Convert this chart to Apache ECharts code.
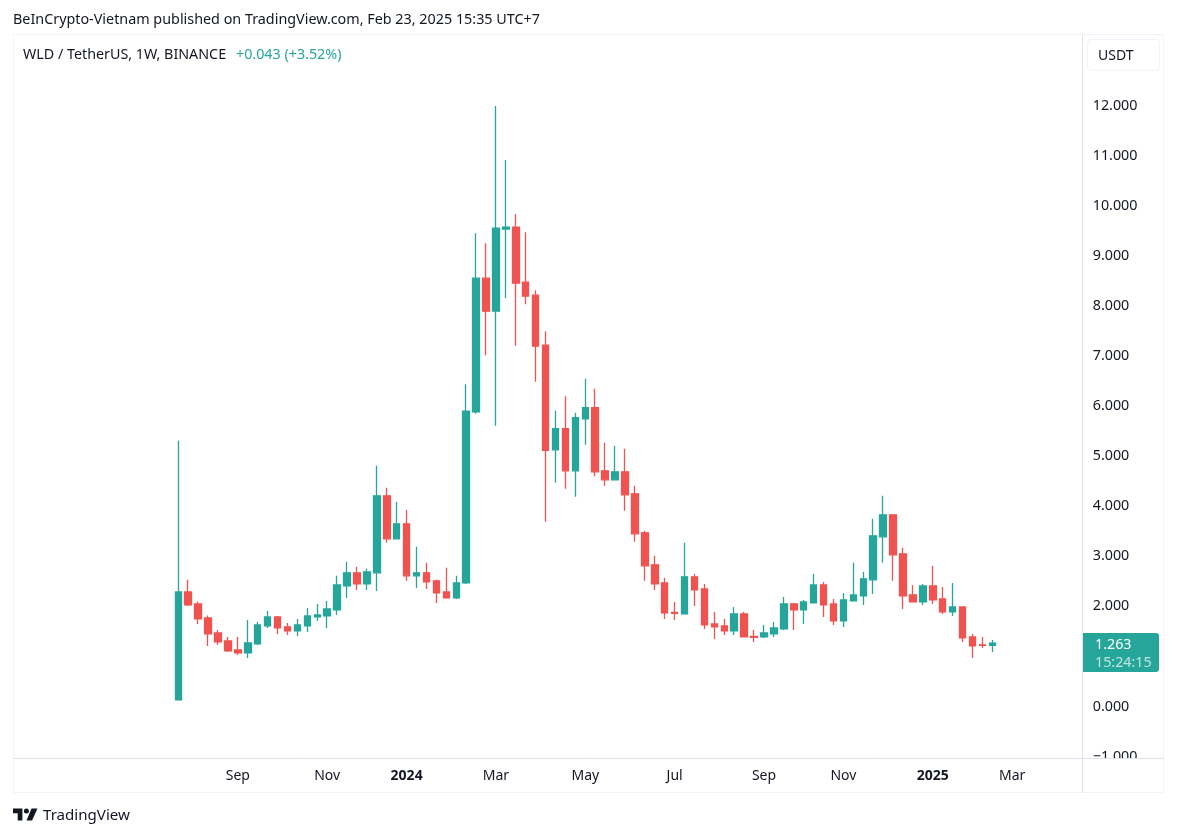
<!DOCTYPE html>
<html>
<head>
<meta charset="utf-8">
<title>WLD / TetherUS</title>
<style>
  html, body { margin: 0; padding: 0; background: #fff; }
  #main { width: 1177px; height: 837px; }
</style>
<script src="https://cdn.jsdelivr.net/npm/echarts@6/dist/echarts.min.js"></script>
</head>
<body>
<div id="main"></div>
<script>
var FONT = '"Noto Sans", sans-serif';
var UP = '#26a69a', DOWN = '#ef5350', TEXT = '#131722';

// weekly candles, [open, close, low, high], first week is 24 Jul 2023
var candles = [
  [0.13, 2.29, 0.13, 5.31], [2.29, 2.03, 2.01, 2.53], [2.05, 1.75, 1.65, 2.10], [1.77, 1.45, 1.21, 1.82],
  [1.47, 1.29, 1.23, 1.53], [1.31, 1.11, 1.09, 1.39], [1.13, 1.07, 1.03, 1.39], [1.07, 1.27, 0.97, 1.73],
  [1.25, 1.63, 1.23, 1.69], [1.61, 1.79, 1.57, 1.91], [1.79, 1.57, 1.45, 1.81], [1.59, 1.51, 1.43, 1.67],
  [1.51, 1.63, 1.41, 1.75], [1.61, 1.81, 1.49, 1.97], [1.79, 1.83, 1.71, 2.05], [1.81, 1.95, 1.57, 2.11],
  [1.93, 2.43, 1.83, 2.61], [2.41, 2.67, 2.17, 2.89], [2.67, 2.45, 2.33, 2.79], [2.45, 2.69, 2.33, 2.75],
  [2.67, 4.21, 2.31, 4.81], [4.21, 3.35, 3.27, 4.37], [3.35, 3.65, 3.35, 4.09], [3.65, 2.61, 2.51, 3.93],
  [2.61, 2.67, 2.37, 3.19], [2.67, 2.49, 2.35, 2.87], [2.51, 2.27, 2.07, 2.53], [2.29, 2.17, 2.17, 2.77],
  [2.17, 2.47, 2.15, 2.61], [2.47, 5.90, 2.45, 6.44], [5.89, 8.56, 5.85, 9.46], [8.56, 7.90, 7.02, 9.26],
  [7.90, 9.56, 5.61, 12.0], [9.54, 9.58, 8.16, 10.92], [9.58, 8.46, 7.21, 9.84], [8.48, 8.20, 8.04, 9.48],
  [8.22, 7.20, 6.49, 8.32], [7.22, 5.12, 3.69, 7.50], [5.13, 5.55, 4.47, 5.91], [5.55, 4.71, 4.35, 6.20],
  [4.71, 5.77, 4.19, 5.87], [5.75, 5.97, 5.23, 6.55], [5.97, 4.69, 4.60, 6.35], [4.71, 4.53, 4.41, 5.27],
  [4.53, 4.69, 4.53, 5.21], [4.69, 4.23, 3.91, 5.15], [4.25, 3.45, 3.29, 4.41], [3.47, 2.81, 2.51, 3.51],
  [2.83, 2.45, 2.33, 3.01], [2.47, 1.87, 1.75, 2.57], [1.88, 1.86, 1.73, 2.09], [1.85, 2.59, 1.85, 3.27],
  [2.59, 2.33, 2.01, 2.65], [2.35, 1.63, 1.55, 2.45], [1.65, 1.59, 1.35, 1.89], [1.61, 1.51, 1.43, 1.75],
  [1.51, 1.85, 1.43, 1.99], [1.85, 1.39, 1.39, 1.89], [1.40, 1.38, 1.29, 1.53], [1.39, 1.47, 1.37, 1.63],
  [1.45, 1.57, 1.39, 1.69], [1.55, 2.05, 1.53, 2.19], [2.05, 1.93, 1.53, 2.07], [1.93, 2.09, 1.65, 2.13],
  [2.07, 2.43, 2.07, 2.65], [2.43, 2.03, 1.79, 2.49], [2.05, 1.71, 1.63, 2.15], [1.71, 2.13, 1.59, 2.27],
  [2.11, 2.23, 2.11, 2.87], [2.21, 2.55, 2.03, 2.69], [2.53, 3.41, 2.25, 3.75], [3.39, 3.83, 2.87, 4.21],
  [3.83, 3.03, 2.51, 3.83], [3.05, 2.21, 1.95, 3.17], [2.23, 2.09, 2.09, 2.43], [2.09, 2.41, 2.03, 2.45],
  [2.41, 2.13, 2.05, 2.81], [2.15, 1.89, 1.85, 2.39], [1.89, 1.99, 1.81, 2.47], [1.99, 1.37, 1.29, 1.99],
  [1.39, 1.21, 0.97, 1.45], [1.23, 1.22, 1.17, 1.39], [1.22, 1.263, 1.09, 1.33]
];

var LEAD = 16, TAIL = 8; // empty weeks left and right of the candles
var monthLabels = {
  '2023-09-04': 'Sep', '2023-11-06': 'Nov', '2024-01-01': '{b|2024}', '2024-03-04': 'Mar',
  '2024-05-06': 'May', '2024-07-08': 'Jul', '2024-09-09': 'Sep', '2024-11-04': 'Nov',
  '2025-01-06': '{b|2025}', '2025-03-03': 'Mar'
};

var weeks = [];
var rows = [];
var start = Date.UTC(2023, 6, 24);
for (var i = -LEAD; i < candles.length + TAIL; i++) {
  weeks.push(new Date(start + i * 7 * 86400000).toISOString().slice(0, 10));
  rows.push(candles[i] || ['-', '-', '-', '-']);
}

var myChart = echarts.init(document.getElementById('main'));

myChart.setOption({
  animation: false,
  backgroundColor: '#ffffff',
  textStyle: { fontFamily: FONT },
  grid: { left: 14.5, right: 100.3, top: 56, bottom: 80.5 },
  xAxis: {
    type: 'category',
    data: weeks,
    axisLine: { show: false },
    axisTick: { show: false },
    splitLine: { show: false },
    axisLabel: {
      margin: 13,
      fontFamily: FONT,
      fontSize: 14,
      color: TEXT,
      hideOverlap: false,
      interval: function (idx, val) { return !!monthLabels[val]; },
      formatter: function (val) { return monthLabels[val] || ''; },
      rich: { b: { fontFamily: FONT, fontSize: 14, fontWeight: 'bold', color: TEXT } }
    }
  },
  yAxis: {
    type: 'value',
    position: 'right',
    min: -1,
    max: 13,
    interval: 1,
    scale: true,
    axisLine: { show: false },
    axisTick: { show: false },
    splitLine: { show: false },
    axisLabel: {
      margin: 16,
      padding: [2, 0, 0, 0],
      showMaxLabel: false,
      fontFamily: FONT,
      fontSize: 14.3,
      color: TEXT,
      formatter: function (v) { return v.toFixed(3).replace('-', '\u2212'); }
    }
  },
  series: [{
    type: 'candlestick',
    data: rows,
    barWidth: 7,
    clip: false,
    itemStyle: { color: UP, color0: DOWN, borderColor: UP, borderColor0: DOWN, borderWidth: 1.3 }
  }],
  graphic: [
    // panel frame and separators
    { type: 'rect', z: 100, shape: { x: 1083, y: 758.5, width: 80, height: 34 }, style: { fill: '#fff' } },
    { type: 'rect', z: 101, shape: { x: 13.5, y: 34.5, width: 1150, height: 758 }, style: { fill: 'none', stroke: '#f0f3fa' } },
    { type: 'line', z: 101, shape: { x1: 13, y1: 758.5, x2: 1164, y2: 758.5 }, style: { stroke: '#e0e3eb' } },
    { type: 'line', z: 101, shape: { x1: 1082.5, y1: 34, x2: 1082.5, y2: 793 }, style: { stroke: '#e0e3eb' } },
    // header
    { type: 'text', z: 101, x: 13, y: 13, style: { text: 'BeInCrypto-Vietnam published on TradingView.com, Feb 23, 2025 15:35 UTC+7', font: '14.35px ' + FONT, fill: TEXT } },
    { type: 'text', z: 101, x: 23, y: 48, style: { text: 'WLD / TetherUS, 1W, BINANCE', font: '14.3px ' + FONT, fill: TEXT } },
    { type: 'text', z: 101, x: 236, y: 48, style: { text: '+0.043 (+3.52%)', font: '14.3px ' + FONT, fill: UP } },
    // currency button
    { type: 'rect', z: 101, shape: { x: 1087.5, y: 39.5, width: 72, height: 31, r: 4 }, style: { fill: '#fff', stroke: '#f0f3fa' } },
    { type: 'text', z: 102, x: 1098, y: 49, style: { text: 'USDT', font: '14px ' + FONT, fill: TEXT } },
    // last price tag
    { type: 'rect', z: 101, shape: { x: 1083, y: 633, width: 76, height: 39, r: [0, 3, 3, 0] }, style: { fill: UP } },
    { type: 'text', z: 102, x: 1095, y: 638, style: { text: '1.263', font: '14.3px ' + FONT, fill: '#fff' } },
    { type: 'text', z: 102, x: 1095, y: 656, style: { text: '15:24:15', font: '14.3px ' + FONT, fill: 'rgba(255,255,255,0.7)' } },
    // footer logo
    { type: 'polygon', z: 101, shape: { points: [[13, 808.5], [22.4, 808.5], [22.4, 820.5], [17.7, 820.5], [17.7, 813.2], [13, 813.2]] }, style: { fill: TEXT } },
    { type: 'polygon', z: 101, shape: { points: [[31.5, 808.5], [37.5, 808.5], [32, 820.5], [26.5, 820.5]] }, style: { fill: TEXT } },
    { type: 'circle', z: 101, shape: { cx: 26.4, cy: 811, r: 2.5 }, style: { fill: TEXT } },
    { type: 'text', z: 101, x: 43, y: 808, style: { text: 'TradingView', font: '15.1px ' + FONT, fill: TEXT } }
  ]
});
</script>
</body>
</html>
